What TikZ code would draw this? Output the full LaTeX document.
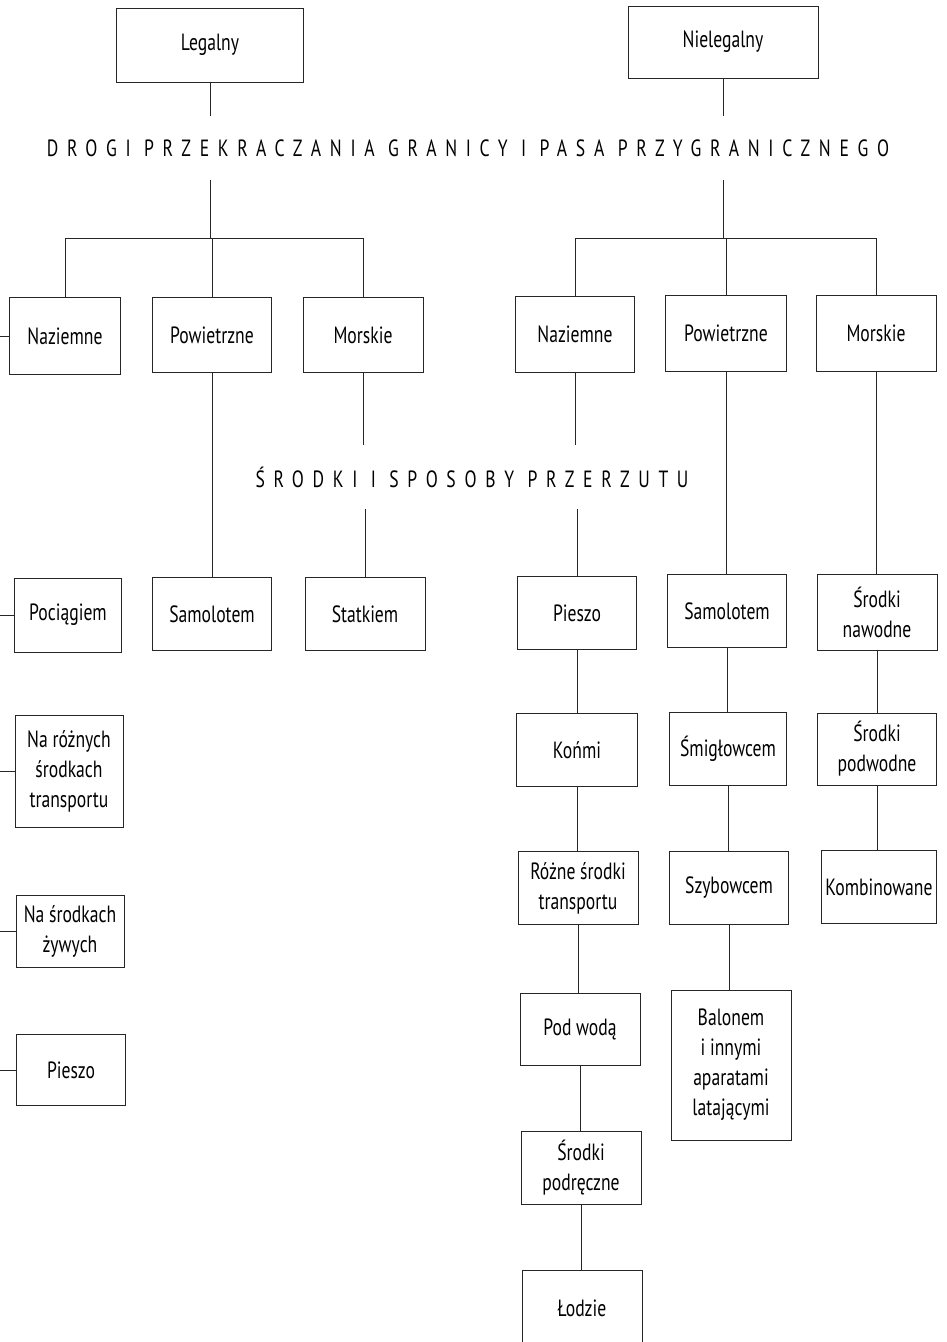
\documentclass[tikz,border=0pt]{standalone}
\usepackage{fontspec}
\setmainfont{PT Sans}[FakeStretch=0.75]
\newfontfamily\spacedfont{PT Sans}[FakeStretch=0.75,LetterSpace=37]
\begin{document}
\begin{tikzpicture}[x=1pt,y=-1pt,
  box/.style={draw=black!85, line width=0.9pt, inner sep=0pt,
    minimum width=119, minimum height=75, align=center,
    font=\fontsize{23.5}{30}\selectfont},
  heading/.style={inner sep=0pt, minimum height=64,
    font=\fontsize{23.5}{28}\selectfont\spacedfont},
  link/.style={draw=black!85, line width=0.8pt}]
\clip (0,0) rectangle (946,1342);
\fill[white] (0,0) rectangle (946,1342);

% top level
\node[box, minimum width=187, minimum height=74] (leg) at (210,45) {Legalny};
\node[box, minimum width=190, minimum height=72] (nleg) at (723,42) {Nielegalny};
\node[heading] (t1) at (468,148) {DROGI PRZEKRACZANIA GRANICY I PASA PRZYGRANICZNEGO};

% legal branch
\node[box, minimum width=111, minimum height=77] (lnaz) at (65,336) {Naziemne};
\node[box] (lpow) at (212,335) {Powietrzne};
\node[box, minimum width=120] (lmor) at (363,335) {Morskie};
\node[box, minimum width=107, minimum height=74] (lpoc) at (68,615) {Pociągiem};
\node[box, minimum height=73] (lsam) at (212,614) {Samolotem};
\node[box, minimum width=120, minimum height=73] (lsta) at (365,614) {Statkiem};
\node[box, minimum width=108, minimum height=112] (lroz) at (69,771) {Na różnych\\środkach\\transportu};
\node[box, minimum width=108, minimum height=72] (lzyw) at (70,931) {Na środkach\\żywych};
\node[box, minimum width=109, minimum height=71] (lpie) at (71,1070) {Pieszo};

% illegal branch
\node[box, minimum height=76] (nnaz) at (575,334) {Naziemne};
\node[box, minimum width=121, minimum height=76] (npow) at (726,333) {Powietrzne};
\node[box, minimum width=120, minimum height=76] (nmor) at (876,333) {Morskie};
\node[heading] (t2) at (472,477) {ŚRODKI I SPOSOBY PRZERZUTU};

\node[box, minimum height=73] (npie) at (577,613) {Pieszo};
\node[box, minimum height=73] (nmsam) at (727,611) {Samolotem};
\node[box, minimum width=120, minimum height=76] (nnaw) at (877,612) {Środki\\nawodne};
\node[box, minimum width=121, minimum height=73] (nkon) at (577,750) {Końmi};
\node[box, minimum width=117, minimum height=73] (nsmi) at (728,749) {Śmigłowcem};
\node[box, minimum width=119, minimum height=72] (npod) at (877,749) {Środki\\podwodne};
\node[box, minimum width=120, minimum height=73] (nroz) at (578,888) {Różne środki\\transportu};
\node[box, minimum height=73] (nszy) at (729,888) {Szybowcem};
\node[box, minimum width=115, minimum height=73] (nkom) at (879,887) {Kombinowane};
\node[box, minimum width=120, minimum height=72] (nwod) at (580,1029) {Pod wodą};
\node[box, minimum width=120, minimum height=150] (nbal) at (731,1065) {Balonem\\i innymi\\aparatami\\latającymi};
\node[box, minimum width=120, minimum height=73] (nrec) at (581,1168) {Środki\\podręczne};
\node[box, minimum width=120, minimum height=76] (nlod) at (582,1308) {Łodzie};

% junction points
\coordinate (lbar) at (210,238);
\coordinate (rbar) at (723,238);
\coordinate (spine) at (0,0);

% top level to the two bars
\draw[link] (leg.south) -- (leg.south |- t1.north);
\draw[link] (leg.south |- t1.south) -- (lbar);
\draw[link] (nleg.south) -- (nleg.south |- t1.north);
\draw[link] (nleg.south |- t1.south) -- (rbar);
\draw[link] (lnaz.north) |- (lbar);
\draw[link] (lmor.north) |- (lbar);
\draw[link] (lpow.north) -- (lpow.north |- lbar);
\draw[link] (nnaz.north) |- (rbar);
\draw[link] (nmor.north) |- (rbar);
\draw[link] (npow.north) -- (npow.north |- rbar);

% second level
\draw[link] (lpow.south) -- (lpow.south |- lsam.north);
\draw[link] (lmor.south) -- (lmor.south |- t2.north);
\draw[link] (lsta.north |- t2.south) -- (lsta.north);
\draw[link] (nnaz.south) -- (nnaz.south |- t2.north);
\draw[link] (npie.north |- t2.south) -- (npie.north);
\draw[link] (npow.south) -- (npow.south |- nmsam.north);
\draw[link] (nmor.south) -- (nmor.south |- nnaw.north);

% illegal chains
\draw[link] (npie.south) -- (npie.south |- nkon.north);
\draw[link] (nkon.south) -- (nkon.south |- nroz.north);
\draw[link] (nroz.south) -- (nroz.south |- nwod.north);
\draw[link] (nwod.south) -- (nwod.south |- nrec.north);
\draw[link] (nrec.south) -- (nrec.south |- nlod.north);
\draw[link] (nmsam.south) -- (nmsam.south |- nsmi.north);
\draw[link] (nsmi.south) -- (nsmi.south |- nszy.north);
\draw[link] (nszy.south) -- (nszy.south |- nbal.north);
\draw[link] (nnaw.south) -- (nnaw.south |- npod.north);
\draw[link] (npod.south) -- (npod.south |- nkom.north);

% stubs of the legal ground column
\foreach \n in {lnaz,lpoc,lroz,lzyw,lpie}
  \draw[link] (\n.west) -- (\n.west -| spine);
\end{tikzpicture}
\end{document}
